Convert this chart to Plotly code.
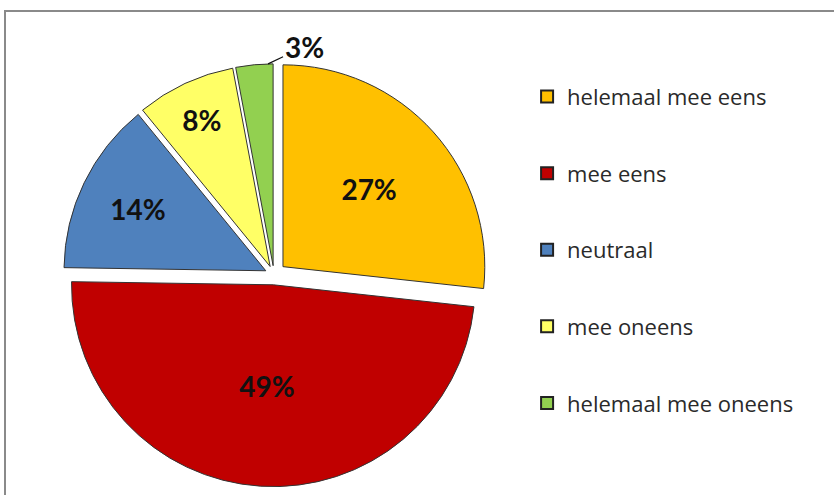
import math
import plotly.graph_objects as go

categories = ["helemaal mee eens", "mee eens", "neutraal", "mee oneens", "helemaal mee oneens"]
values = [27, 49, 14, 8, 3]
labels_pct = ["27%", "49%", "14%", "8%", "3%"]
colors = ["#FFC000", "#C00000", "#4F81BD", "#FFFF66", "#92D050"]
pulls = [0.06, 0.05, 0.045, 0.045, 0.045]

W, H = 834, 495
DOM_X = [0.072, 0.585]
DOM_Y = [0.0, 0.89]
PCT_FONT = dict(family="Lato, Open Sans, sans-serif", size=28, color="#111111", weight="bold")

fig = go.Figure()
fig.add_trace(go.Pie(
    labels=categories, values=values,
    text=labels_pct[:-1] + [""], textinfo="text",
    sort=False, direction="clockwise", rotation=0,
    pull=pulls,
    marker=dict(colors=colors, line=dict(color="#333333", width=1)),
    textposition="inside",
    insidetextorientation="horizontal",
    textfont=PCT_FONT,
    domain=dict(x=DOM_X, y=DOM_Y),
    showlegend=False, hoverinfo="label+percent",
))
for c, col in zip(categories, colors):
    fig.add_trace(go.Scatter(
        x=[None], y=[None], mode="markers", name=c, legendgroup=c,
        marker=dict(symbol="square", size=14, color=col, line=dict(color="#222222", width=1.2)),
    ))

# geometry of the pie (same formula plotly uses) to attach the small-slice label
bw = W * (DOM_X[1] - DOM_X[0])
bh = H * (DOM_Y[1] - DOM_Y[0])
r = min(bw, bh) / 2 / (1 + max(pulls))
cx = W * (DOM_X[0] + DOM_X[1]) / 2
cy = H * (1 - DOM_Y[0]) - bh / 2
total = sum(values)
end_angle = 2 * math.pi * (sum(values) - 0.15 * values[-1]) / total
R = r * (1 + pulls[-1])
tip_x = cx + R * math.sin(end_angle)
tip_y = cy - R * math.cos(end_angle)

fig.update_layout(
    width=W, height=H, margin=dict(l=0, r=0, t=0, b=0, autoexpand=False),
    paper_bgcolor="white", plot_bgcolor="white",
    xaxis=dict(visible=False), yaxis=dict(visible=False),
    uniformtext=dict(minsize=28, mode="show"),
    legend=dict(x=0.632, y=0.847, xanchor="left", yanchor="top",
                font=dict(family="Open Sans, sans-serif", size=22, color="#2a2a2a"),
                tracegroupgap=45, itemsizing="constant", bgcolor="rgba(0,0,0,0)"),
    annotations=[dict(
        xref="paper", yref="paper", x=tip_x / W, y=1 - tip_y / H,
        text=labels_pct[-1], font=PCT_FONT,
        showarrow=True, arrowhead=0, arrowwidth=1.2, arrowcolor="#111111",
        ax=36, ay=-17, standoff=0,
    )],
    shapes=[dict(type="path", xref="paper", yref="paper",
                 path=f"M {5 / W},-0.1 L {5 / W},{1 - 11 / H} L 1.1,{1 - 11 / H}",
                 line=dict(color="#8a8a8a", width=2), layer="below")],
)
fig.write_html("out.html")
